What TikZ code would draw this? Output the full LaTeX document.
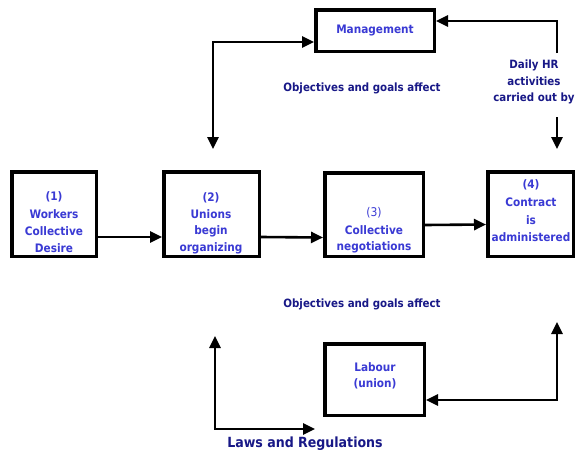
\documentclass[tikz,border=0pt]{standalone}
\usepackage{fontspec}
\setmainfont{DejaVu Sans Condensed}
\usetikzlibrary{arrows.meta}
\definecolor{boxtext}{RGB}{58,58,212}
\definecolor{labtext}{RGB}{24,24,135}
\tikzset{
  box/.style={draw=black, line width=3.5pt, inner sep=0pt},
  btxt/.style={text=boxtext, font=\bfseries\fontsize{11.7}{13}\selectfont, inner sep=0pt, align=center},
  btxtr/.style={text=boxtext, font=\fontsize{12}{13}\selectfont, inner sep=0pt, align=center},
  ltxt/.style={text=labtext, font=\bfseries\fontsize{11.4}{16.5}\selectfont, inner sep=0pt, align=center},
  arr/.style={line width=2.6pt, -{Triangle[length=12pt,width=11pt]}},
  darr/.style={line width=2.6pt, {Triangle[length=12pt,width=11pt]}-{Triangle[length=12pt,width=11pt]}},
}
\begin{document}
\begin{tikzpicture}[x=1pt,y=-1pt]
\useasboundingbox[fill=white] (0,0) rectangle (576,453);
% boxes
\node[box, minimum width=84.5pt, minimum height=84.5pt] (b1) at (54,214) {};
\node[box, minimum width=95.5pt, minimum height=84.5pt] (b2) at (211.5,214) {};
\node[box, minimum width=98.5pt, minimum height=83.5pt] (b3) at (374,214.5) {};
\node[box, minimum width=85.5pt, minimum height=84.5pt] (b4) at (530.5,214) {};
\node[box, minimum width=118.5pt, minimum height=41.5pt] (mg) at (375,30.5) {};
\node[box, minimum width=99.5pt, minimum height=71.5pt] (lb) at (374.5,379.5) {};
% box texts
\node[btxt] (t1a) at (54,197) {(1)};
\node[btxt] (t1b) at (54,214) {Workers};
\node[btxt] (t1c) at (54,231) {Collective};
\node[btxt] (t1d) at (54,248) {Desire};
\node[btxt] (t2a) at (211,198) {(2)};
\node[btxt] (t2b) at (211,214) {Unions};
\node[btxt] (t2c) at (211,231) {begin};
\node[btxt] (t2d) at (211,248) {organizing};
\node[btxtr] (t3a) at (374,213) {(3)};
\node[btxt] (t3b) at (374,230) {Collective};
\node[btxt] (t3c) at (374,247) {negotiations};
\node[btxt] (t4a) at (531,185) {(4)};
\node[btxt] (t4b) at (531,202) {Contract};
\node[btxt] (t4c) at (531,220) {is};
\node[btxt] (t4d) at (531,237) {administered};
\node[btxt] (tm) at (375,30) {Management};
\node[btxt] (tl1) at (375,367) {Labour};
\node[btxt] (tl2) at (375,384) {(union)};
% labels
\node[ltxt] (obj1) at (362,88) {Objectives and goals affect};
\node[ltxt] (obj2) at (362,304) {Objectives and goals affect};
\node[ltxt] (hr) at (534,82) {Daily HR\\activities\\carried out by};
\node[text=labtext, font=\bfseries\fontsize{14}{16}\selectfont, inner sep=0pt] (laws) at (305,444) {Laws and Regulations};
% main flow arrows
\draw[arr] ([yshift=-23pt]b1.east) -- ([yshift=-23pt]b2.west);
\draw[arr] ([yshift=-23pt]b2.east) -- ([yshift=-23pt]b3.west);
\draw[arr] ([yshift=-10.5pt]b3.east) -- ([yshift=-10.5pt]b4.west);
% management connectors
\coordinate (hrtop) at (557,53);
\draw[arr] (hrtop) |- ([yshift=9.5pt]mg.east);
\coordinate (hrs) at (557,117);
\coordinate (hre) at (557,149);
\draw[arr] (hrs) -- (hre);
\coordinate (lt) at (213,149);
\draw[darr] (lt) |- ([yshift=-11.5pt]mg.west);
% bottom connectors
\coordinate (lbt) at (215,336);
\coordinate (lbe) at (315,429);
\draw[darr] (lbt) |- (lbe);
\coordinate (rbt) at (557,322);
\draw[darr] (rbt) |- ([yshift=-20.5pt]lb.east);
\end{tikzpicture}
\end{document}
